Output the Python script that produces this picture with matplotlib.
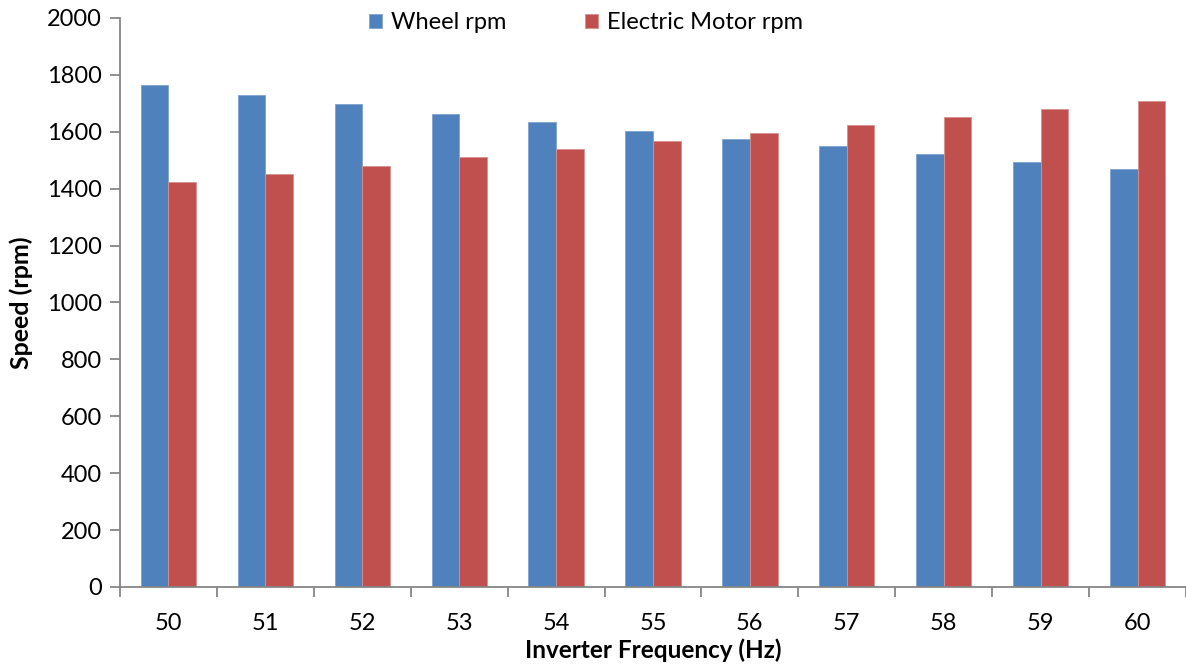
import matplotlib
matplotlib.use("Agg")
import matplotlib.pyplot as plt
import numpy as np

# data
frequencies = ["50", "51", "52", "53", "54", "55", "56", "57", "58", "59", "60"]
wheel_rpm = [1763, 1728, 1697, 1664, 1633, 1604, 1576, 1549, 1521, 1495, 1469]
motor_rpm = [1424, 1453, 1481, 1510, 1538, 1566, 1595, 1623, 1651, 1680, 1708]

plt.rcParams['font.family'] = ['Lato', 'DejaVu Sans']

fig = plt.figure(figsize=(11.86, 6.64), dpi=100)
ax = fig.add_axes([0.1012, 0.116, 0.8988, 0.857])

x = np.arange(len(frequencies))
w = 0.285
ax.bar(x - w / 2, wheel_rpm, width=w, color="#4F81BD", edgecolor="#7FA3D1",
       linewidth=0.6, label="Wheel rpm", zorder=2)
ax.bar(x + w / 2, motor_rpm, width=w, color="#C0504D", edgecolor="#D9908E",
       linewidth=0.6, label="Electric Motor rpm", zorder=2)

ax.set_ylim(0, 2000)
ax.set_yticks(np.arange(0, 2001, 200))
ax.set_xlim(-0.5, 10.46)

# boundary ticks between categories, labels at centres
ax.set_xticks(np.arange(-0.5, 11, 1.0))
ax.set_xticklabels([])
ax.set_xticks(x, minor=True)
ax.set_xticklabels(frequencies, minor=True)
ax.tick_params(axis='x', which='major', length=7, width=1.3, color="#868686")
ax.tick_params(axis='x', which='minor', length=0, labelsize=17, pad=19)
ax.tick_params(axis='y', length=7, width=1.3, color="#868686", labelsize=17, pad=6)

for s in ["top", "right"]:
    ax.spines[s].set_visible(False)
for s in ["left", "bottom"]:
    ax.spines[s].set_color("#868686")
    ax.spines[s].set_linewidth(1.3)

ax.set_ylabel("Speed (rpm)", fontsize=18, fontweight="bold", labelpad=10)
ax.set_xlabel("Inverter Frequency (Hz)", fontsize=17.5, fontweight="bold", labelpad=3)

fig.legend(loc="center", bbox_to_anchor=(0.494, 0.966), ncol=2, frameon=False,
           fontsize=17, handlelength=0.55, handleheight=0.55, columnspacing=3.3,
           handletextpad=0.4)

fig.savefig("out.png", dpi=100)
